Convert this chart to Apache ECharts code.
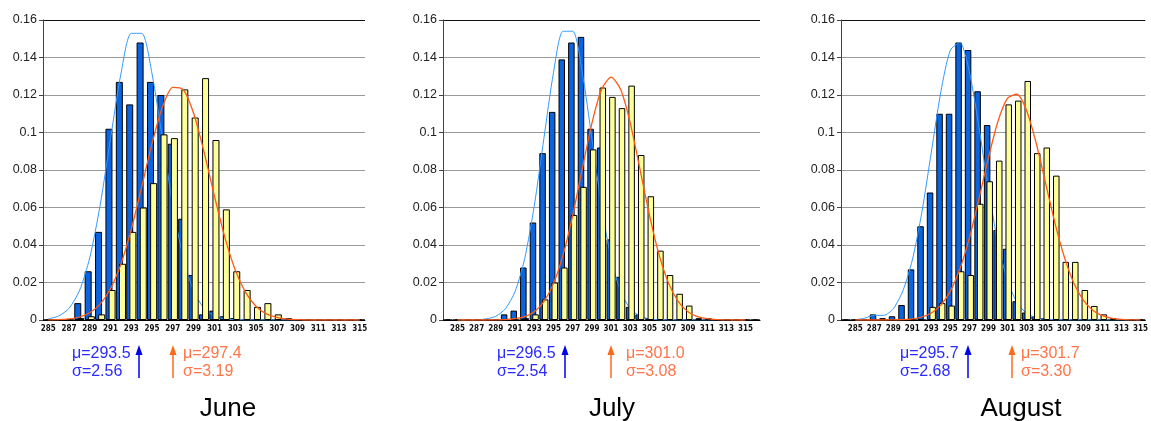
<!DOCTYPE html>
<html>
<head>
<meta charset="utf-8">
<script src="https://cdn.jsdelivr.net/npm/echarts/dist/echarts.min.js"></script>
<style>
  html, body { margin: 0; padding: 0; background: #fff; }
  #chart { width: 1151px; height: 421px; }
</style>
</head>
<body>
<div id="chart"></div>
<script>
// bins (K), relative frequency per bin, and the fitted normal curves
const juneCats = ['285','286','287','288','289','290','291','292','293','294','295','296','297','298','299','300',
  '301','302','303','304','305','306','307','308','309','310','311','312','313','314','315']
const juneBlue = [0, 0, 0, 0.009, 0.026, 0.047, 0.102, 0.127, 0.115, 0.148, 0.127, 0.120, 0.094, 0.054, 0.024, 0.003,
  0.005, 0.002, 0.001, 0, 0, 0, 0, 0, 0, 0, 0, 0, 0, 0, 0]
const juneYellow = [0, 0, 0, 0.001, 0.002, 0.003, 0.016, 0.030, 0.047, 0.060, 0.073, 0.099, 0.097, 0.123, 0.108, 0.129,
  0.096, 0.059, 0.026, 0.016, 0.007, 0.009, 0.003, 0.001, 0, 0, 0, 0, 0, 0, 0]
const juneBlueFit = [0.0006, 0.0021, 0.0062, 0.0155, 0.0332, 0.0612, 0.0967, 0.1312, 0.1529, 0.1529, 0.1312, 0.0967,
  0.0612, 0.0332, 0.0155, 0.0062, 0.0021, 0.0006, 0.0002, 0, 0, 0, 0, 0, 0, 0, 0, 0, 0, 0, 0]
const juneOrangeFit = [0.0001, 0.0002, 0.0006, 0.0016, 0.0039, 0.0085, 0.0167, 0.0298, 0.0483, 0.0709, 0.0942, 0.1136,
  0.1241, 0.1229, 0.1103, 0.0897, 0.0662, 0.0442, 0.0268, 0.0147, 0.0073, 0.0033, 0.0014, 0.0005, 0.0002, 0, 0, 0, 0, 0, 0]

const julyCats = ['284','285','286','287','288','289','290','291','292','293','294','295','296','297','298','299','300',
  '301','302','303','304','305','306','307','308','309','310','311','312','313','314','315','316']
const julyBlue = [0, 0, 0, 0, 0, 0, 0.003, 0.005, 0.028, 0.052, 0.089, 0.111, 0.139, 0.148, 0.151, 0.102, 0.092,
  0.043, 0.023, 0.007, 0.003, 0.001, 0, 0, 0, 0, 0, 0, 0, 0, 0, 0, 0]
const julyYellow = [0, 0, 0, 0, 0, 0, 0, 0, 0.001, 0.003, 0.011, 0.020, 0.028, 0.056, 0.071, 0.091, 0.124,
  0.119, 0.113, 0.125, 0.088, 0.066, 0.037, 0.024, 0.014, 0.0077, 0.001, 0.001, 0, 0, 0, 0, 0]
const julyBlueFit = [null, 0, 0, 0.0001, 0.0006, 0.002, 0.006, 0.0151, 0.0327, 0.0608, 0.0968, 0.1319, 0.154, 0.154,
  0.1319, 0.0968, 0.0608, 0.0327, 0.0151, 0.006, 0.002, 0.0006, 0.0001, 0, 0, 0, 0, 0, 0, 0, 0, 0, null]
const julyOrangeFit = [null, 0, 0, 0, 0, 0.0001, 0.0002, 0.0007, 0.0018, 0.0044, 0.0098, 0.0194, 0.0347, 0.0557,
  0.0806, 0.1049, 0.1229, 0.1295, 0.1229, 0.1049, 0.0806, 0.0557, 0.0347, 0.0194, 0.0098, 0.0044, 0.0018, 0.0007,
  0.0002, 0.0001, 0, 0, null]

const augCats = ['284','285','286','287','288','289','290','291','292','293','294','295','296','297','298','299','300',
  '301','302','303','304','305','306','307','308','309','310','311','312','313','314','315']
const augBlue = [0, 0, 0, 0.003, 0.001, 0.002, 0.008, 0.027, 0.050, 0.068, 0.110, 0.110, 0.148, 0.144, 0.122, 0.104,
  0.048, 0.038, 0.010, 0.004, 0.002, 0.001, 0, 0, 0, 0, 0, 0, 0, 0, 0, 0]
const augYellow = [0, 0, 0, 0, 0, 0, 0, 0, 0, 0.007, 0.009, 0.0077, 0.026, 0.024, 0.062, 0.074, 0.085,
  0.115, 0.117, 0.1275, 0.089, 0.092, 0.077, 0.031, 0.031, 0.016, 0.0075, 0.003, 0.001, 0.0005, 0, 0]
const augBlueFit = [null, 0.0001, 0.001, 0.0025, 0.0025, 0.006, 0.0155, 0.032, 0.0574, 0.0896, 0.1217, 0.1439, 0.1479,
  0.1323, 0.103, 0.0698, 0.0411, 0.0211, 0.0094, 0.0036, 0.0012, 0.0004, 0.0001, 0, 0, 0, 0, 0, 0, 0, 0, 0]
const augOrangeFit = [null, 0, 0, 0, 0, 0.0001, 0.0002, 0.0006, 0.0016, 0.0037, 0.0079, 0.0154, 0.0272, 0.0438,
  0.0645, 0.0865, 0.1059, 0.1182, 0.1204, 0.1119, 0.0948, 0.0733, 0.0517, 0.0333, 0.0195, 0.0105, 0.0051, 0.0023,
  0.0009, 0.0003, 0.0001, 0]

// fitted parameters printed under each panel: [blue, orange]
const juneMu = ['293.5', '297.4']
const juneSigma = ['2.56', '3.19']
const julyMu = ['296.5', '301.0']
const julySigma = ['2.54', '3.08']
const augMu = ['295.7', '301.7']
const augSigma = ['2.68', '3.30']

const yTicks = [0, 0.02, 0.04, 0.06, 0.08, 0.1, 0.12, 0.14, 0.16]

const FONT = '"Liberation Sans", Arial, sans-serif'
const BLUE_BAR = '#0a64e0'
const YELLOW_BAR = '#ffff99'
const BLUE_LINE = '#3399ff'
const ORANGE_LINE = '#ff5a14'

// layout of the three panels (pixels)
const panels = [
  { cats: juneCats, blue: juneBlue, yellow: juneYellow, blueFit: juneBlueFit, orangeFit: juneOrangeFit,
    mu: juneMu, sigma: juneSigma, title: 'June',
    left: 43, width: 322, barW: 7, gap: '-55%', titleX: 228, blueArrow: 139, orangeArrow: 173, blueTextX: 72, orangeTextX: 183 },
  { cats: julyCats, blue: julyBlue, yellow: julyYellow, blueFit: julyBlueFit, orangeFit: julyOrangeFit,
    mu: julyMu, sigma: julySigma, title: 'July',
    left: 443, width: 317, barW: 6.5, gap: '-60%', titleX: 612, blueArrow: 565, orangeArrow: 611, blueTextX: 497, orangeTextX: 626 },
  { cats: augCats, blue: augBlue, yellow: augYellow, blueFit: augBlueFit, orangeFit: augOrangeFit,
    mu: augMu, sigma: augSigma, title: 'August',
    left: 841, width: 310, barW: 6.5, gap: '-60%', titleX: 1021, blueArrow: 968, orangeArrow: 1012, blueTextX: 900, orangeTextX: 1021 }
]

const chart = echarts.init(document.getElementById('chart'))

const grids = []
const xAxes = []
const yAxes = []
const series = []
const graphics = []

panels.forEach((p, i) => {
  grids.push({ left: p.left, top: 20, width: p.width, height: 300, containLabel: false })

  xAxes.push({
    type: 'category',
    gridIndex: i,
    data: p.cats,
    axisLine: { lineStyle: { color: '#000', width: 1 } },
    axisTick: { interval: 0, length: 3, lineStyle: { color: '#555' } },
    axisLabel: {
      interval: (idx, val) => Number(val) % 2 === 1,
      fontSize: 8,
      fontWeight: 'bold',
      fontFamily: '"Liberation Sans Narrow", "DejaVu Sans Condensed", ' + FONT,
      color: '#111',
      margin: 5
    }
  })

  yAxes.push({
    type: 'value',
    gridIndex: i,
    min: 0,
    max: 0.16,
    interval: 0.02,
    axisLine: { show: true, lineStyle: { color: '#444' } },
    axisTick: { show: true, length: 4, lineStyle: { color: '#444' } },
    axisLabel: {
      fontSize: 12.5,
      fontFamily: FONT,
      color: '#222',
      margin: 6,
      formatter: v => String(+v.toFixed(2))
    },
    splitLine: {
      lineStyle: {
        color: yTicks.map((t, k) => k === yTicks.length - 1 ? '#111' : '#9a9a9a'),
        width: 1
      }
    }
  })

  series.push({
    type: 'bar', xAxisIndex: i, yAxisIndex: i, z: 2,
    data: p.blue, barWidth: p.barW, barGap: p.gap,
    itemStyle: { color: BLUE_BAR, borderColor: '#000', borderWidth: 1 },
    animation: false
  })
  series.push({
    type: 'line', xAxisIndex: i, yAxisIndex: i, z: 3,
    data: p.blueFit, showSymbol: false, smooth: 0.25,
    lineStyle: { color: BLUE_LINE, width: 1 },
    animation: false
  })
  series.push({
    type: 'bar', xAxisIndex: i, yAxisIndex: i, z: 4,
    data: p.yellow, barWidth: p.barW, barGap: p.gap,
    itemStyle: { color: YELLOW_BAR, borderColor: '#000', borderWidth: 1 },
    animation: false
  })
  series.push({
    type: 'line', xAxisIndex: i, yAxisIndex: i, z: 5,
    data: p.orangeFit, showSymbol: false, smooth: 0.25,
    lineStyle: { color: ORANGE_LINE, width: 1.3 },
    animation: false
  })

  // mu / sigma notes with arrows
  const txt = (text, x, y, color) => ({
    type: 'text', z: 10,
    style: { text, x, y, fill: color, font: '16px ' + FONT,
      textAlign: 'left', align: 'left', textVerticalAlign: 'middle', verticalAlign: 'middle' }
  })
  graphics.push(txt('μ=' + p.mu[0], p.blueTextX, 354, '#2a2aff'))
  graphics.push(txt('σ=' + p.sigma[0], p.blueTextX, 372, '#2a2aff'))
  graphics.push(txt('μ=' + p.mu[1], p.orangeTextX, 354, '#ff7448'))
  graphics.push(txt('σ=' + p.sigma[1], p.orangeTextX, 372, '#ff7448'))

  const arrow = (x, color) => {
    graphics.push({ type: 'line', z: 10, shape: { x1: x, y1: 378, x2: x, y2: 350 },
      style: { stroke: color, lineWidth: 1.5 } })
    graphics.push({ type: 'polygon', z: 10, shape: { points: [[x - 3.5, 355], [x, 345], [x + 3.5, 355]] },
      style: { fill: color } })
  }
  arrow(p.blueArrow, '#0000ee')
  arrow(p.orangeArrow, '#ff6a1a')

  graphics.push({
    type: 'text', z: 10,
    style: { text: p.title, x: p.titleX, y: 409, fill: '#000', font: '26px ' + FONT,
      textAlign: 'center', align: 'center', textVerticalAlign: 'middle', verticalAlign: 'middle' }
  })
})

chart.setOption({
  backgroundColor: '#fff',
  animation: false,
  grid: grids,
  xAxis: xAxes,
  yAxis: yAxes,
  series: series,
  graphic: graphics
})
</script>
</body>
</html>
